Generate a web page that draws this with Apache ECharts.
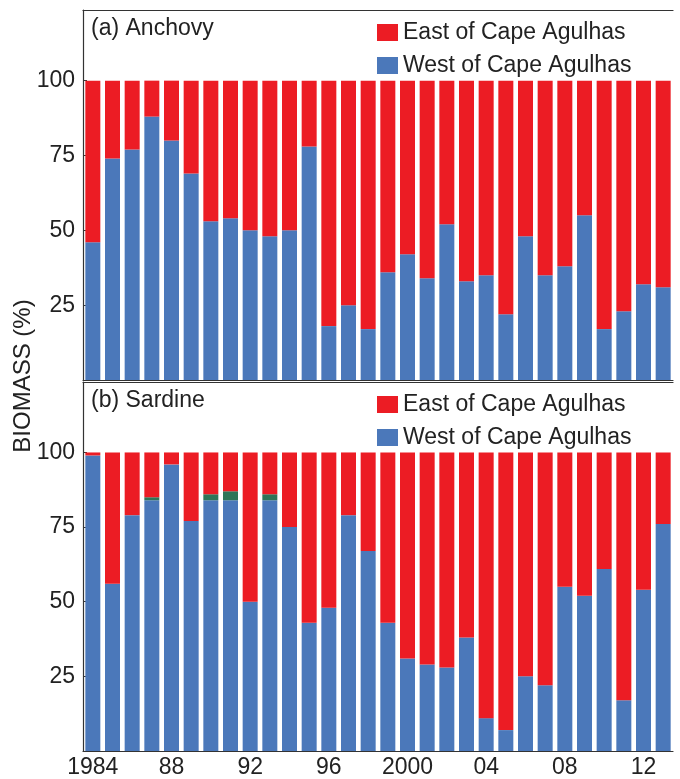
<!DOCTYPE html>
<html>
<head>
<meta charset="utf-8">
<script src="https://cdn.jsdelivr.net/npm/echarts@6/dist/echarts.min.js"></script>
<style>html,body{margin:0;padding:0;background:#fff}#c{width:680px;height:779px}</style>
</head>
<body>
<div id="c"></div>
<script>
const years = ['1984','1985','1986','1987','1988','1989','1990','1991','1992','1993','1994','1995','1996','1997','1998','1999','2000','2001','2002','2003','2004','2005','2006','2007','2008','2009','2010','2011','2012','2013'];
const shownYearLabels = {'1984':'1984','1988':'88','1992':'92','1996':'96','2000':'2000','2004':'04','2008':'08','2012':'12'};
const yTicks = [25, 50, 75, 100];

const anchovyWest = [46,74,77,88,80,69,53,54,50,48,50,78,18,25,17,36,42,34,52,33,35,22,48,35,38,55,17,23,32,31];
const anchovyEast = [54,26,23,12,20,31,47,46,50,52,50,22,82,75,83,64,58,66,48,67,65,78,52,65,62,45,83,77,68,69];

const sardineWest = [99,56,79,84,96,77,84,84,50,84,75,43,48,79,67,43,31,29,28,38,11,7,25,22,55,52,61,17,54,76];
const sardineOther = [0,0,0,1,0,0,2,3,0,2,0,0,0,0,0,0,0,0,0,0,0,0,0,0,0,0,0,0,0,0];
const sardineEast = [1,44,21,15,4,23,14,13,50,14,25,57,52,21,33,57,69,71,72,62,89,93,75,78,45,48,39,83,46,24];

const RED = '#ec1c24', BLUE = '#4b78ba', GREEN = '#2e7558';
const FONT = 'Liberation Sans, Arial, sans-serif';
const AX = '#333';
const FS = 23;

function xAxes(gi, showLabels) {
  return [{
    type: 'category', gridIndex: gi, data: years,
    axisLine: {show: true, lineStyle: {color: AX, width: 1.2}},
    axisTick: {show: false},
    axisLabel: {show: showLabels, interval: 0, margin: 5, fontSize: FS, color: '#222', fontFamily: FONT,
      formatter: v => shownYearLabels[v] || ''}
  }, {
    type: 'category', gridIndex: gi, data: years, position: 'top',
    axisLine: {show: true, lineStyle: {color: AX, width: 1.2}},
    axisTick: {show: false}, axisLabel: {show: false}
  }];
}
function yAxis(gi) {
  return {
    type: 'value', gridIndex: gi, min: 0, max: 123.6,
    axisLine: {show: true, lineStyle: {color: AX, width: 1.2}},
    axisTick: {show: true, length: 4, inside: true, customValues: yTicks, lineStyle: {color: AX}},
    axisLabel: {customValues: yTicks, fontSize: FS, color: '#222', fontFamily: FONT, margin: 8},
    splitLine: {show: false}
  };
}
const xa = xAxes(0, false).concat(xAxes(1, true));
const legendText = {fontSize: FS, color: '#222', fontFamily: FONT};

const option = {
  animation: false,
  grid: [
    {left: 83, width: 590, top: 10, height: 370},
    {left: 83, width: 590, top: 382, height: 370}
  ],
  xAxis: xa,
  yAxis: [yAxis(0), yAxis(1)],
  legend: [
    {data: ['East of Cape Agulhas','West of Cape Agulhas'], orient: 'vertical', left: 372, top: 16,
     itemWidth: 21, itemHeight: 17, itemGap: 10, itemStyle: {borderWidth: 0}, textStyle: legendText, icon: 'rect', selectedMode: false},
    {data: ['East of Cape Agulhas','West of Cape Agulhas'], orient: 'vertical', left: 372, top: 388,
     itemWidth: 21, itemHeight: 17, itemGap: 10, itemStyle: {borderWidth: 0}, textStyle: legendText, icon: 'rect', selectedMode: false}
  ],
  graphic: [
    {type: 'text', left: 91, top: 17, style: {text: '(a) Anchovy', fontSize: FS, fill: '#222', fontFamily: FONT}},
    {type: 'text', left: 91, top: 389, style: {text: '(b) Sardine', fontSize: FS, fill: '#222', fontFamily: FONT}},
    {type: 'text', x: 11, y: 376, rotation: Math.PI / 2,
     style: {text: 'BIOMASS (%)', fontSize: 24, fill: '#222', fontFamily: FONT, align: 'center', verticalAlign: 'top'}}
  ],
  series: [
    {name: 'West of Cape Agulhas', type: 'bar', stack: 'a', xAxisIndex: 0, yAxisIndex: 0, data: anchovyWest, barWidth: 15, itemStyle: {color: BLUE}},
    {name: 'East of Cape Agulhas', type: 'bar', stack: 'a', xAxisIndex: 0, yAxisIndex: 0, data: anchovyEast, barWidth: 15, itemStyle: {color: RED}},
    {name: 'West of Cape Agulhas', type: 'bar', stack: 'b', xAxisIndex: 2, yAxisIndex: 1, data: sardineWest, barWidth: 15, itemStyle: {color: BLUE}},
    {name: 'Other', type: 'bar', stack: 'b', xAxisIndex: 2, yAxisIndex: 1, data: sardineOther, barWidth: 15, itemStyle: {color: GREEN}},
    {name: 'East of Cape Agulhas', type: 'bar', stack: 'b', xAxisIndex: 2, yAxisIndex: 1, data: sardineEast, barWidth: 15, itemStyle: {color: RED}}
  ]
};
const chart = echarts.init(document.getElementById('c'), null, {renderer: 'canvas'});
chart.setOption(option);
</script>
</body>
</html>
